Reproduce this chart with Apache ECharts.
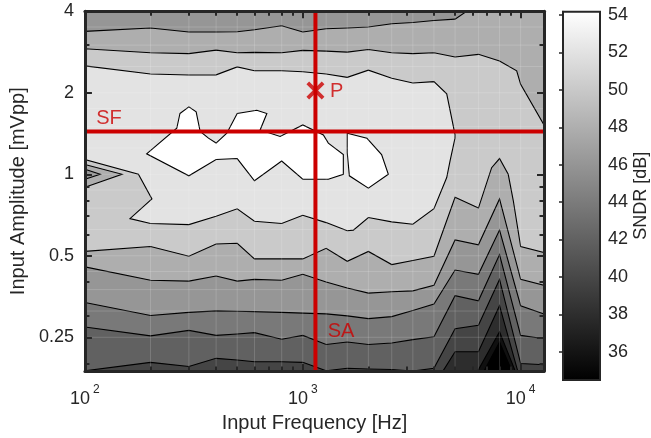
<!DOCTYPE html>
<html><head><meta charset="utf-8">
<script src="https://cdn.jsdelivr.net/npm/echarts@6/dist/echarts.min.js"></script>
<style>html,body{margin:0;padding:0;background:#fff}#c{width:651px;height:438px}</style>
</head><body><div id="c"></div>
<script>
// ---------- axis ranges ----------
const F_MIN = 100, F_MAX = 12800;
const A_MIN = 0.1875, A_MAX = 4;
const C_MIN = 34.49, C_MAX = 54.18;

// ---------- tick values ----------
const xMajorTicks = [100, 1000, 10000];
const xMinorTicks = [200, 300, 400, 500, 600, 700, 800, 900, 2000, 3000, 4000, 5000, 6000, 7000, 8000, 9000];
const yMajorTicks = [0.25, 0.5, 1, 2, 4];
const yMinorTicks = [0.2, 0.3, 0.4, 0.6, 0.7, 0.8, 0.9, 3];
const cbTicks = [36, 38, 40, 42, 44, 46, 48, 50, 52, 54];

// measurement grid (faint seams)
const freqGrid = [100, 200, 300, 400, 500, 600, 800, 1000, 1280, 1600, 2000, 2560, 3200, 4000, 5000, 6400, 8000, 10000, 12800];
const ampGrid = [0.25, 0.3125, 0.375, 0.4375, 0.5, 0.625, 0.75, 0.875, 1, 1.25, 1.5, 1.75, 2, 2.5, 3, 3.5];

// ---------- contour lines [freq Hz, amplitude mVpp] ----------
const c48Top = [[100,3.372],[200,3.469],[300,3.355],[400,3.355],[500,3.363],[600,3.42],[800,3.536],[1000,3.355],[1280,3.448],[1600,3.469],[2000,3.498],[2560,3.596],[3200,3.636],[4000,3.697],[5000,3.741],[5650,4]];
const c50Top = [[100,2.909],[200,2.813],[300,2.790],[400,2.875],[500,2.813],[600,2.82],[800,2.813],[1000,2.868],[1280,2.851],[1600,2.827],[2000,2.892],[2560,2.813],[3200,2.79],[4000,2.813],[5000,2.711],[6400,2.774],[8000,2.622],[9590,2.411],[10000,2.15],[12800,1.521]];
const c52Loop = [[100,2.514],[200,2.346],[300,2.326],[400,2.33],[500,2.493],[600,2.411],[800,2.411],[1000,2.391],[1280,2.346],[1600,2.281],[2000,2.425],[2560,2.262],[3200,2.175],[4000,2.199],[4578,1.983],[5000,1.398],[4996,1.36],[4740,1.119],[4578,0.973],[4000,0.746],[3200,0.654],[2560,0.667],[2000,0.692],[1706,0.622],[1600,0.619],[1280,0.663],[1000,0.706],[800,0.658],[600,0.671],[500,0.746],[400,0.700],[300,0.652],[200,0.658],[161,0.686],[203,0.811],[176,1.0],[100,1.134]];
const c54LoopA = [[273,1.677],[300,1.774],[324,1.701],[338,1.439],[369,1.36],[400,1.304],[448,1.418],[500,1.677],[615,1.724],[684,1.677],[637,1.458],[787,1.38],[1000,1.521],[1243,1.398],[1310,1.304],[1535,1.182],[1535,1.0],[1310,0.959],[1000,0.959],[800,1.119],[600,0.946],[553,1.029],[500,1.143],[400,1.134],[300,0.987],[192,1.19],[264,1.479]];
const c54LoopB = [[1600,1.418],[1970,1.36],[2000,1.341],[2300,1.182],[2470,1.0],[2000,0.889],[1636,0.987],[1600,1.2]];
const c50Notch = [[100,1.087],[148,1.0],[100,0.895]];
const c48Notch = [[100,1.043],[117.5,1.0],[100,0.959]];
const c50Bottom = [[100,0.519],[200,0.541],[300,0.498],[400,0.553],[500,0.556],[600,0.487],[800,0.487],[1000,0.487],[1280,0.533],[1600,0.477],[2000,0.519],[2560,0.464],[3200,0.48],[4000,0.498],[5000,0.823],[6400,0.75],[7360,1.058],[8000,1.143],[8770,1.0],[9250,0.8],[10000,0.541],[12800,0.514]];
const c48Bottom = [[100,0.455],[200,0.406],[300,0.403],[400,0.421],[500,0.403],[600,0.409],[800,0.406],[1000,0.427],[1280,0.400],[1600,0.38],[2000,0.364],[2560,0.368],[3200,0.371],[4000,0.389],[5000,0.572],[6400,0.549],[8000,0.811],[10000,0.409],[12800,0.389]];
const c46 = [[100,0.336],[200,0.301],[300,0.309],[400,0.313],[500,0.312],[600,0.311],[800,0.309],[1000,0.307],[1280,0.305],[1600,0.30],[2000,0.293],[2560,0.298],[3200,0.314],[4000,0.332],[5000,0.443],[6400,0.427],[8000,0.622],[10000,0.327],[12800,0.305]];
const c44 = [[100,0.273],[200,0.253],[300,0.265],[400,0.254],[500,0.257],[600,0.260],[800,0.246],[1000,0.254],[1280,0.235],[1600,0.24],[2000,0.235],[2560,0.238],[3200,0.245],[4000,0.251],[5000,0.356],[6400,0.341],[8000,0.505],[10000,0.254],[12800,0.247]];
const c42 = [[100,0.188],[200,0.202],[300,0.195],[400,0.209],[500,0.206],[600,0.203],[800,0.203],[1000,0.202],[1280,0.188],[1600,0.192],[2000,0.191],[2560,0.19],[3200,0.1875],[4000,0.192],[5000,0.269],[6400,0.277],[8000,0.409],[10000,0.2],[12800,0.198]];
const c40 = [[4400,0.1875],[5000,0.221],[6400,0.221],[8000,0.327],[9700,0.1875]];
const c38 = [[6350,0.1875],[8000,0.262],[9450,0.1875]];
const c36 = [[6790,0.1875],[8000,0.240],[9120,0.1875]];

// ---------- annotations ----------
const P_FREQ = 1143, P_AMP = 2.04, SF_AMP = 1.44;
const annotations = [
  {name: 'SF', value: [111.5, 1.608]},
  {name: 'P', value: [1320, 2.025]},
  {name: 'SA', value: [1288, 0.263]}
];

// ---------- build fill regions (painter's order) ----------
const TL = [F_MIN, A_MAX], TR = [F_MAX, A_MAX], BL = [F_MIN, A_MIN], BR = [F_MAX, A_MIN];
function above(line) { return line.concat([TR, TL]); }
function exceptTri(tri) { return [BL].concat(tri, [BR, TR, TL]); }
const regions = [
  {level: C_MIN, pts: [BL, BR, TR, TL], stroke: false},
  {level: 36, pts: exceptTri(c36)},
  {level: 38, pts: exceptTri(c38)},
  {level: 40, pts: exceptTri(c40)},
  {level: 42, pts: above(c42)},
  {level: 44, pts: above(c44)},
  {level: 46, pts: above(c46)},
  {level: 48, pts: c48Bottom.concat([TR], c48Top.slice().reverse())},
  {level: 50, pts: c50Bottom.concat(c50Top.slice().reverse())},
  {level: 48, pts: c50Notch},
  {level: 46, pts: c48Notch},
  {level: 52, pts: c52Loop},
  {level: 54, pts: c54LoopA},
  {level: 54, pts: c54LoopB}
];

function gray(L) {
  let idx = Math.floor((L - C_MIN) / (C_MAX - C_MIN) * 64);
  idx = Math.max(0, Math.min(63, idx));
  const g = Math.round(idx / 63 * 255);
  return 'rgb(' + g + ',' + g + ',' + g + ')';
}

const TXT = '#262626';
const FONT = '"Liberation Sans", Arial, Helvetica, sans-serif';
const RED = '#cc0000';

function xAx(pos, major, showLine) {
  return {
    type: 'log', logBase: 10, min: F_MIN, max: F_MAX, gridIndex: 0, position: pos, z: 10,
    axisLine: {show: showLine, onZero: false, lineStyle: {color: TXT, width: 3}},
    axisTick: {show: true, inside: true, length: major ? 7 : 4.5, customValues: major ? xMajorTicks : xMinorTicks, lineStyle: {color: TXT, width: 2}},
    axisLabel: {show: false},
    splitLine: {show: false}, minorTick: {show: false}
  };
}
function yAx(pos, major, showLine) {
  return {
    type: 'log', logBase: 2, min: A_MIN, max: A_MAX, gridIndex: 0, position: pos, z: 10,
    axisLine: {show: showLine, onZero: false, lineStyle: {color: TXT, width: 3}},
    axisTick: {show: true, inside: true, length: major ? 7 : 4.5, customValues: major ? yMajorTicks : yMinorTicks, lineStyle: {color: TXT, width: 2}},
    axisLabel: {show: false},
    splitLine: {show: false}, minorTick: {show: false}
  };
}

const xMain = xAx('bottom', true, true);
xMain.axisLabel = {
  show: true, customValues: xMajorTicks, margin: 13,
  formatter: v => '{b|10}{s|' + Math.round(Math.log10(v)) + '}',
  rich: {
    b: {fontSize: 18, fontFamily: FONT, color: TXT, lineHeight: 24, verticalAlign: 'bottom'},
    s: {fontSize: 12, fontFamily: FONT, color: TXT, lineHeight: 12, verticalAlign: 'top', padding: [0, 0, 0, 3]}
  }
};
xMain.name = 'Input Frequency [Hz]';
xMain.nameLocation = 'middle';
xMain.nameGap = 30;
xMain.nameTextStyle = {fontSize: 20, fontFamily: FONT, color: TXT};

const yMain = yAx('left', true, true);
yMain.axisLabel = {show: true, customValues: yMajorTicks, margin: 11, formatter: v => String(v), fontSize: 18, fontFamily: FONT, color: TXT};
yMain.name = 'Input Amplitude [mVpp]';
yMain.nameLocation = 'middle';
yMain.nameGap = 52;
yMain.nameRotate = 90;
yMain.nameTextStyle = {fontSize: 20, fontFamily: FONT, color: TXT};

const option = {
  backgroundColor: '#fff',
  animation: false,
  grid: [
    {left: 84.7, top: 11.3, width: 459.3, height: 365.7},
    {left: 563, top: 11.7, width: 42, height: 368.3}
  ],
  xAxis: [
    xMain, xAx('bottom', false, false), xAx('top', true, true), xAx('top', false, false),
    {type: 'value', gridIndex: 1, min: 0, max: 1, show: false}
  ],
  yAxis: [
    yMain, yAx('left', false, false), yAx('right', true, true), yAx('right', false, false),
    {
      type: 'value', gridIndex: 1, min: C_MIN, max: C_MAX, position: 'right', z: 10,
      axisLine: {show: true, lineStyle: {color: TXT, width: 2}},
      axisTick: {show: true, inside: true, length: 4, customValues: cbTicks, lineStyle: {color: TXT, width: 1.5}},
      axisLabel: {show: true, customValues: cbTicks, margin: 8, fontSize: 18, fontFamily: FONT, color: TXT},
      splitLine: {show: false},
      name: 'SNDR [dB]', nameLocation: 'middle', nameRotate: 90, nameGap: 32,
      nameTextStyle: {fontSize: 18, fontFamily: FONT, color: TXT}
    }
  ],
  series: [
    {
      type: 'custom', xAxisIndex: 0, yAxisIndex: 0, clip: true, silent: true, z: 2,
      data: regions.map((r, i) => [r.pts[0][0], r.pts[0][1], i]),
      encode: {x: 0, y: 1},
      renderItem: (params, api) => {
        const r = regions[api.value(2)];
        return {
          type: 'polygon',
          shape: {points: r.pts.map(q => api.coord(q))},
          style: {fill: gray(r.level), stroke: r.stroke === false ? null : '#000', lineWidth: 1.1, lineJoin: 'miter'}
        };
      }
    },
    {
      type: 'custom', xAxisIndex: 0, yAxisIndex: 0, clip: true, silent: true, z: 3,
      data: freqGrid.map(f => [f, A_MIN, 0]).concat(ampGrid.map(a => [F_MIN, a, 1])),
      encode: {x: 0, y: 1},
      renderItem: (params, api) => {
        const vertical = api.value(2) === 0;
        const p1 = vertical ? api.coord([api.value(0), A_MIN]) : api.coord([F_MIN, api.value(1)]);
        const p2 = vertical ? api.coord([api.value(0), A_MAX]) : api.coord([F_MAX, api.value(1)]);
        return {type: 'line', shape: {x1: p1[0], y1: p1[1], x2: p2[0], y2: p2[1]}, style: {stroke: 'rgba(255,255,255,0.16)', lineWidth: 1}};
      }
    },
    {
      type: 'line', xAxisIndex: 0, yAxisIndex: 0, z: 5, symbol: 'none', silent: true,
      data: [[P_FREQ, A_MIN], [P_FREQ, A_MAX]],
      lineStyle: {color: RED, width: 4}
    },
    {
      type: 'line', xAxisIndex: 0, yAxisIndex: 0, z: 5, symbol: 'none', silent: true,
      data: [[F_MIN, SF_AMP], [F_MAX, SF_AMP]],
      lineStyle: {color: RED, width: 4}
    },
    {
      type: 'scatter', xAxisIndex: 0, yAxisIndex: 0, z: 6, silent: true,
      symbol: 'path://M0,3L3,0L10,7L17,0L20,3L13,10L20,17L17,20L10,13L3,20L0,17L7,10Z',
      symbolSize: [18, 18],
      itemStyle: {color: RED},
      data: [[P_FREQ, P_AMP]]
    },
    {
      type: 'scatter', xAxisIndex: 0, yAxisIndex: 0, z: 7, silent: true,
      symbol: 'circle', symbolSize: 2, itemStyle: {color: 'rgba(0,0,0,0)'},
      data: annotations,
      label: {show: true, position: 'right', distance: 0, formatter: '{b}', color: RED, fontSize: 20, fontFamily: FONT}
    },
    {
      type: 'custom', xAxisIndex: 4, yAxisIndex: 4, silent: true, z: 2,
      data: [[0, C_MIN]],
      renderItem: (params, api) => {
        const p1 = api.coord([0, C_MAX]);
        const p2 = api.coord([1, C_MIN]);
        return {
          type: 'rect',
          shape: {x: p1[0], y: p1[1], width: p2[0] - p1[0], height: p2[1] - p1[1]},
          style: {
            fill: new echarts.graphic.LinearGradient(0, 0, 0, 1, [{offset: 0, color: '#ffffff'}, {offset: 1, color: '#000000'}]),
            stroke: TXT, lineWidth: 2
          }
        };
      }
    }
  ]
};

const chart = echarts.init(document.getElementById('c'), null, {renderer: 'canvas'});
chart.setOption(option);
</script>
</body></html>
